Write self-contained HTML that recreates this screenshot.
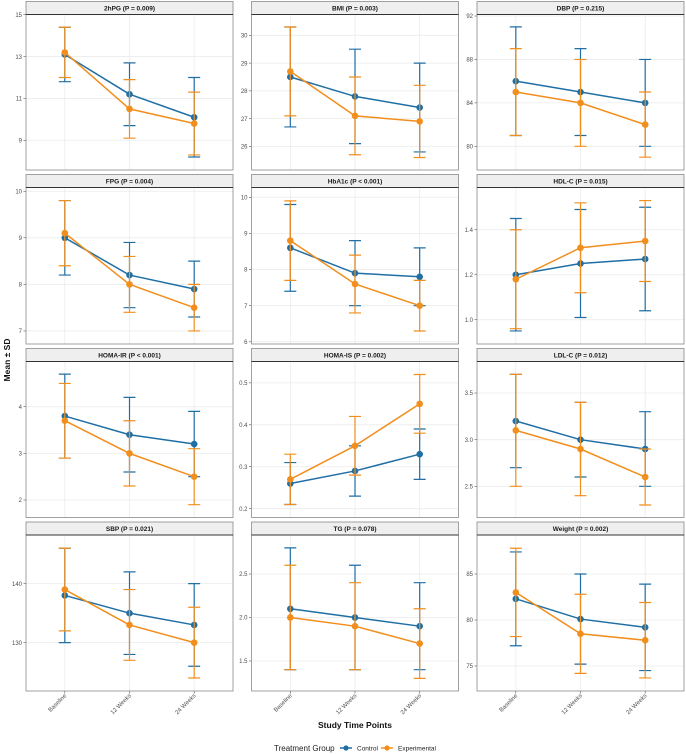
<!DOCTYPE html>
<html><head><meta charset="utf-8">
<style>
html,body{margin:0;padding:0;background:#fff;}
svg{display:block;font-family:"Liberation Sans",sans-serif;}
</style></head>
<body>
<svg id="chart" width="686" height="754" viewBox="0 0 686 754" xmlns="http://www.w3.org/2000/svg">
<text transform="translate(10,360) rotate(-90)" text-anchor="middle" font-size="8.5" font-weight="bold" fill="#111">Mean ± SD</text>
<text x="355" y="728" text-anchor="middle" font-size="8.5" font-weight="bold" fill="#111">Study Time Points</text>
<g>
<text x="274" y="751" font-size="8" fill="#222">Treatment Group</text>
<g>
<line x1="340" y1="748" x2="352" y2="748" stroke="#1f6fa5" stroke-width="1.5"/><circle cx="346" cy="748" r="2.6" fill="#1f6fa5"/>
<text x="357" y="750.5" font-size="6.5" fill="#222">Control</text></g>
<g>
<line x1="381" y1="748" x2="393" y2="748" stroke="#f28e1c" stroke-width="1.5"/><circle cx="387" cy="748" r="2.6" fill="#f28e1c"/>
<text x="398" y="750.5" font-size="6.5" fill="#222">Experimental</text></g>
</g>
<g id="panels"></g>
</svg>
<script>
const timepoints = ["Baseline","12 Weeks","24 Weeks"];
const panelTitles = ["2hPG (P = 0.009)","BMI (P = 0.003)","DBP (P = 0.215)","FPG (P = 0.004)","HbA1c (P < 0.001)","HDL-C (P = 0.015)","HOMA-IR (P < 0.001)","HOMA-IS (P = 0.002)","LDL-C (P = 0.012)","SBP (P = 0.021)","TG (P = 0.078)","Weight (P = 0.002)"];
const controlMean = [[13.1,11.2,10.1],[28.5,27.8,27.4],[86,85,84],[9.0,8.2,7.9],[8.6,7.9,7.8],[1.20,1.25,1.27],[3.8,3.4,3.2],[0.26,0.29,0.33],[3.2,3.0,2.9],[138,135,133],[2.1,2.0,1.9],[82.3,80.1,79.2]];
const controlSD = [[1.3,1.5,1.9],[1.8,1.7,1.6],[5,4,4],[0.8,0.7,0.6],[1.2,0.9,0.8],[0.25,0.24,0.23],[0.9,0.8,0.7],[0.05,0.06,0.06],[0.5,0.4,0.4],[8,7,7],[0.7,0.6,0.5],[5.1,4.9,4.7]];
const expMean = [[13.2,10.5,9.8],[28.7,27.1,26.9],[85,84,82],[9.1,8.0,7.5],[8.8,7.6,7.0],[1.18,1.32,1.35],[3.7,3.0,2.5],[0.27,0.35,0.45],[3.1,2.9,2.6],[139,133,130],[2.0,1.9,1.7],[83.0,78.5,77.8]];
const expSD = [[1.2,1.4,1.5],[1.6,1.4,1.3],[4,4,3],[0.7,0.6,0.5],[1.1,0.8,0.7],[0.22,0.20,0.18],[0.8,0.7,0.6],[0.06,0.07,0.07],[0.6,0.5,0.3],[7,6,6],[0.6,0.5,0.4],[4.8,4.3,4.1]];
const yTicks = [[9,11,13,15],[26,27,28,29,30],[80,84,88,92],[7,8,9,10],[6,7,8,9,10],[1.0,1.2,1.4],[2,3,4],[0.2,0.3,0.4,0.5],[2.5,3.0,3.5],[130,140],[1.5,2.0,2.5],[75,80,85]];
const yTickLabels = [["9","11","13","15"],["26","27","28","29","30"],["80","84","88","92"],["7","8","9","10"],["6","7","8","9","10"],["1.0","1.2","1.4"],["2","3","4"],["0.2","0.3","0.4","0.5"],["2.5","3.0","3.5"],["130","140"],["1.5","2.0","2.5"],["75","80","85"]];
const yDomainMin = [7.58,25.15,77.82,6.72,5.94,0.892,1.625,0.179,2.166,121.8,1.155,72.28];
const yDomainMax = [15.01,30.75,92.14,10.08,10.27,1.588,4.97,0.551,3.838,148.25,2.948,89.24];

const NS="http://www.w3.org/2000/svg";
const colLeft=[26,251.5,477], W=207;
const plotTop=[14.5,187.5,361.5,535], plotBot=[170,344,517.5,691], STRIP=13;
const BLUE="#1f6fa5", ORANGE="#f28e1c";
function mk(tag,attrs,parent){const e=document.createElementNS(NS,tag);for(const k in attrs)e.setAttribute(k,attrs[k]);parent.appendChild(e);return e;}
const root=document.getElementById('panels');
panelTitles.forEach((title,i)=>{
  const r=Math.floor(i/3), c=i%3;
  const x0=colLeft[c], top=plotTop[r], bot=plotBot[r];
  const xs=k=>x0+W*(0.6+k)/3.2;
  const ys=v=>bot-(v-yDomainMin[i])/(yDomainMax[i]-yDomainMin[i])*(bot-top);
  const g=mk('g',{},root);
  
  
  // strip
  const s=mk('rect',{x:x0,y:top-STRIP,width:W,height:STRIP,fill:'#efefef',stroke:'#8a8a8a','stroke-width':0.8},g);
  
  
  const st=mk('text',{x:x0+W/2,y:top-4,'text-anchor':'middle','font-size':6.5,'font-weight':'bold',fill:'#1a1a1a'},g);
  st.textContent=title;
  
  
  // grid
  yTicks[i].forEach((t,j)=>{
    const y=ys(t);
    mk('line',{x1:x0,x2:x0+W,y1:y,y2:y,stroke:'#ebebeb','stroke-width':0.8},g);
    mk('line',{x1:x0-2.5,x2:x0,y1:y,y2:y,stroke:'#333','stroke-width':0.5},g);
    const tl=mk('text',{x:x0-4,y:y+2.2,'text-anchor':'end','font-size':6,fill:'#4d4d4d'},g);
    tl.textContent=yTickLabels[i][j];
    
    
  });
  timepoints.forEach((tp,k)=>{
    mk('line',{x1:xs(k),x2:xs(k),y1:top,y2:bot,stroke:'#ebebeb','stroke-width':0.8},g);
    if(r===3){
      mk('line',{x1:xs(k),x2:xs(k),y1:bot,y2:bot+2.5,stroke:'#333','stroke-width':0.5},g);
      const xl=mk('text',{transform:`translate(${xs(k)+2},${bot+5}) rotate(-45)`,'text-anchor':'end','font-size':6,fill:'#4d4d4d'},g);
      xl.textContent=tp;
      
      
    }
  });
  // series
  [[controlMean,controlSD,BLUE,'control'],[expMean,expSD,ORANGE,'experimental']].forEach(([M,S,col,nm])=>{
    const sg=mk('g',{},g);
    
    
    M[i].forEach((m,k)=>{
      const lo=ys(m-S[i][k]), hi=ys(m+S[i][k]), x=xs(k);
      const eb=mk('path',{d:`M${x-6},${hi}H${x+6}M${x},${hi}V${lo}M${x-6},${lo}H${x+6}`,stroke:col,'stroke-width':1.2,fill:'none'},sg);
      
      
    });
    const ln=mk('polyline',{points:M[i].map((m,k)=>xs(k)+','+ys(m)).join(' '),stroke:col,'stroke-width':1.5,fill:'none'},sg);
    
    
    M[i].forEach((m,k)=>{
      const p=mk('circle',{cx:xs(k),cy:ys(m),r:3.3,fill:col},sg);
      
      
    });
  });
  mk('rect',{x:x0,y:top,width:W,height:bot-top,fill:'none',stroke:'#8a8a8a','stroke-width':0.8},g);
  mk('line',{x1:x0,x2:x0+W,y1:top,y2:top,stroke:'#333','stroke-width':1},g);
});
</script>
</body></html>
